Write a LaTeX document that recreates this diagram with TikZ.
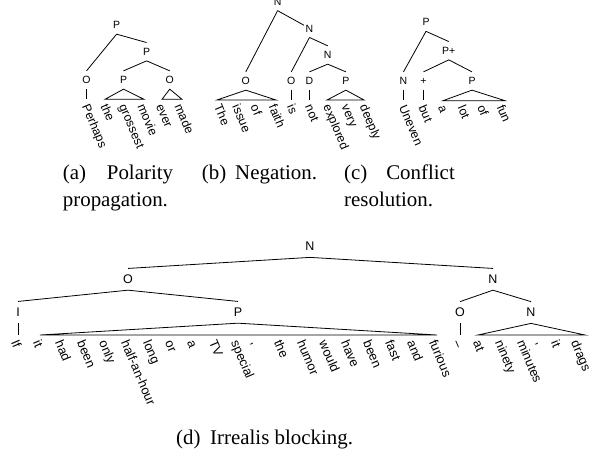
\documentclass[tikz,border=0pt]{standalone}
\usepackage{fontspec}
\setmainfont{Liberation Serif}
\setsansfont{Liberation Sans}
\begin{document}
\begin{tikzpicture}[x=1pt,y=-1pt,
  edge/.style={line width=0.8pt, line join=miter},
  lab/.style={font=\fontsize{10.5}{10.5}\selectfont\sffamily, inner xsep=1.5pt, inner ysep=5.2pt, text height=7.5pt, text depth=0pt, anchor=center},
  labd/.style={font=\fontsize{12.5}{12.5}\selectfont\sffamily, inner xsep=1.5pt, inner ysep=6.2pt, text height=8.95pt, text depth=0pt, anchor=center},
  wd/.style={font=\fontsize{12.3}{12.3}\selectfont\sffamily, rotate=-67, anchor=west, inner sep=0pt, text height=9.2pt, text depth=2.5pt},
  wdd/.style={font=\fontsize{12.8}{12.8}\selectfont\sffamily, rotate=-67, anchor=west, inner sep=0pt, text height=9.6pt, text depth=2.6pt},
  captxt/.style={font=\fontsize{20.9}{25}\selectfont, inner sep=0pt}
]
\useasboundingbox (0,0) rectangle (589,456);

% ---------------- (a) ----------------
\node[lab] (aP0) at (116.6,25) {P};
\node[lab] (aP1) at (146.6,51.7) {P};
\node[lab] (aO1) at (86.5,80) {O};
\node[lab] (aP2) at (123.5,80) {P};
\node[lab] (aO2) at (169.75,80) {O};
\coordinate (aB) at (0,98.5);
\coordinate (aP2l) at (105,99.3);
\coordinate (aP2r) at (144,99.3);
\coordinate (aO2l) at (162,99.3);
\coordinate (aO2r) at (182,99.3);
\draw[edge] (aP0.south) -- (aO1.north);
\draw[edge] (aP0.south) -- (aP1.north);
\draw[edge] (aP1.south) -- (aP2.north);
\draw[edge] (aP1.south) -- (aO2.north);
\draw[edge] (aO1.south) -- (aO1.south |- aB);
\draw[edge] (aP2.south) -- (aP2r) -- (aP2l) -- cycle;
\draw[edge] (aO2.south) -- (aO2r) -- (aO2l) -- cycle;
\node[wd] (a1) at (85,105) {Perhaps};
\node[wd] (a2) at (103.5,105) {the};
\node[wd] (a3) at (122,105) {grossest};
\node[wd] (a4) at (140.5,105) {movie};
\node[wd] (a5) at (159,105) {ever};
\node[wd] (a6) at (177.5,105) {made};

% ---------------- (b) ----------------
\node[lab] (bN0) at (277.6,1.5) {N};
\node[lab] (bN1) at (309.5,28.3) {N};
\node[lab] (bN2) at (327.7,55) {N};
\node[lab] (bO1) at (245.8,81) {O};
\node[lab] (bO2) at (291.3,81) {O};
\node[lab] (bD) at (309.5,81) {D};
\node[lab] (bP) at (345.9,81) {P};
\coordinate (bB) at (0,99.5);
\coordinate (bO1l) at (217,100);
\coordinate (bO1r) at (276,100);
\coordinate (bPl) at (327,100);
\coordinate (bPr) at (364,100);
\draw[edge] (bN0.south) -- (bO1.north);
\draw[edge] (bN0.south) -- (bN1);
\draw[edge] (bN1.south) -- (bO2.north);
\draw[edge] (bN1.south) -- (bN2.north);
\draw[edge] (bN2.south) -- (bD.north);
\draw[edge] (bN2.south) -- (bP.north);
\draw[edge] (bO2.south) -- (bO2.south |- bB);
\draw[edge] (bD.south) -- (bD.south |- bB);
\draw[edge] (bO1.south) -- (bO1r) -- (bO1l) -- cycle;
\draw[edge] (bP.south) -- (bPr) -- (bPl) -- cycle;
\node[wd] (b1) at (217,105.5) {The};
\node[wd] (b2) at (235.2,105.5) {issue};
\node[wd] (b3) at (253.4,105.5) {of};
\node[wd] (b4) at (271.6,105.5) {faith};
\node[wd] (b5) at (289.8,105.5) {is};
\node[wd] (b6) at (308,105.5) {not};
\node[wd] (b7) at (326.2,105.5) {explored};
\node[wd] (b8) at (344.4,105.5) {very};
\node[wd] (b9) at (362.6,105.5) {deeply};

% ---------------- (c) ----------------
\node[lab] (cP0) at (426,22.2) {P};
\node[lab] (cP1) at (448.8,50.7) {P+};
\node[lab] (cN) at (403.5,81) {N};
\node[lab] (cplus) at (423.5,81) {+};
\node[lab] (cP) at (472,81) {P};
\coordinate (cB) at (0,100);
\coordinate (cPl) at (443,100.7);
\coordinate (cPr) at (505,100.7);
\draw[edge] (cP0.south) -- (cN.north);
\draw[edge] (cP0.south) -- (cP1.north);
\draw[edge] (cP1.south) -- (cplus.north);
\draw[edge] (cP1.south) -- (cP.north);
\draw[edge] (cN.south) -- (cN.south |- cB);
\draw[edge] (cplus.south) -- (cplus.south |- cB);
\draw[edge] (cP.south) -- (cPr) -- (cPl) -- cycle;
\node[wd] (c1) at (402,106) {Uneven};
\node[wd] (c2) at (421.5,106) {but};
\node[wd] (c3) at (441,106) {a};
\node[wd] (c4) at (460.5,106) {lot};
\node[wd] (c5) at (480,106) {of};
\node[wd] (c6) at (499.5,106) {fun};

% ---------------- (d) ----------------
\node[labd] (dN0) at (310,246.5) {N};
\node[labd] (dO) at (128,279.3) {O};
\node[labd] (dN1) at (493,279.3) {N};
\node[labd] (dI) at (18,312.3) {I};
\node[labd] (dP) at (238,312.3) {P};
\node[labd] (dO2) at (460,312.5) {O};
\node[labd] (dN2) at (531,312.5) {N};
\coordinate (dB) at (0,335);
\coordinate (dPl) at (40,335);
\coordinate (dPr) at (437,335);
\coordinate (dN2l) at (478,335);
\coordinate (dN2r) at (585,335);
\draw[edge] (dN0.south) -- (dO.north);
\draw[edge] (dN0.south) -- (dN1.north);
\draw[edge] (dO.south) -- (dI.north);
\draw[edge] (dO.south) -- (dP.north);
\draw[edge] (dN1.south) -- (dO2.north);
\draw[edge] (dN1.south) -- (dN2.north);
\draw[edge] (dI.south) -- (dI.south |- dB);
\draw[edge] (dO2.south) -- (dO2.south |- dB);
\draw[edge] (dP.south) -- (dPr) -- (dPl) -- cycle;
\draw[edge] (dN2.south) -- (dN2r) -- (dN2l) -- cycle;
\node[wdd] (d1) at (14,341) {If};
\node[wdd] (d2) at (36,341) {it};
\node[wdd] (d3) at (58,341) {had};
\node[wdd] (d4) at (80,341) {been};
\node[wdd] (d5) at (102,341) {only};
\node[wdd] (d6) at (124,341) {half-an-hour};
\node[wdd] (d7) at (146,341) {long};
\node[wdd] (d8) at (168,341) {or};
\node[wdd] (d9) at (190,341) {a};
\node[wdd] (d10) at (212,341) {TV};
\node[wdd] (d11) at (234,341) {special};
\node[wdd] (d12) at (254,341) {,};
\node[wdd] (d13) at (277,341) {the};
\node[wdd] (d14) at (300,341) {humor};
\node[wdd] (d15) at (322,341) {would};
\node[wdd] (d16) at (344,341) {have};
\node[wdd] (d17) at (366,341) {been};
\node[wdd] (d18) at (388,341) {fast};
\node[wdd] (d19) at (410,341) {and};
\node[wdd] (d20) at (432,341) {furious};
\node[wdd] (d21) at (456,341) {--};
\node[wdd] (d22) at (476,341) {at};
\node[wdd] (d23) at (498,341) {ninety};
\node[wdd] (d24) at (520,341) {minutes};
\node[wdd] (d25) at (539,341) {,};
\node[wdd] (d26) at (554,341) {it};
\node[wdd] (d27) at (574,341) {drags};

% ---------------- captions ----------------
\node[captxt, anchor=base west] (capa1) at (62.7,179) {(a)};
\node[captxt, anchor=base east] (capa2) at (173.3,179) {Polarity};
\node[captxt, anchor=base west] (capa3) at (62.7,206.7) {propagation.};
\node[captxt, anchor=base west] (capb1) at (201.7,179) {(b)};
\node[captxt, anchor=base west] (capb2) at (235,179) {Negation.};
\node[captxt, anchor=base west] (capc1) at (344,179) {(c)};
\node[captxt, anchor=base east] (capc2) at (455,179) {Conflict};
\node[captxt, anchor=base west] (capc3) at (344,206.7) {resolution.};
\node[captxt, anchor=base west] (capd1) at (176,444.4) {(d)};
\node[captxt, anchor=base west] (capd2) at (210,444.4) {Irrealis blocking.};
\end{tikzpicture}
\end{document}
